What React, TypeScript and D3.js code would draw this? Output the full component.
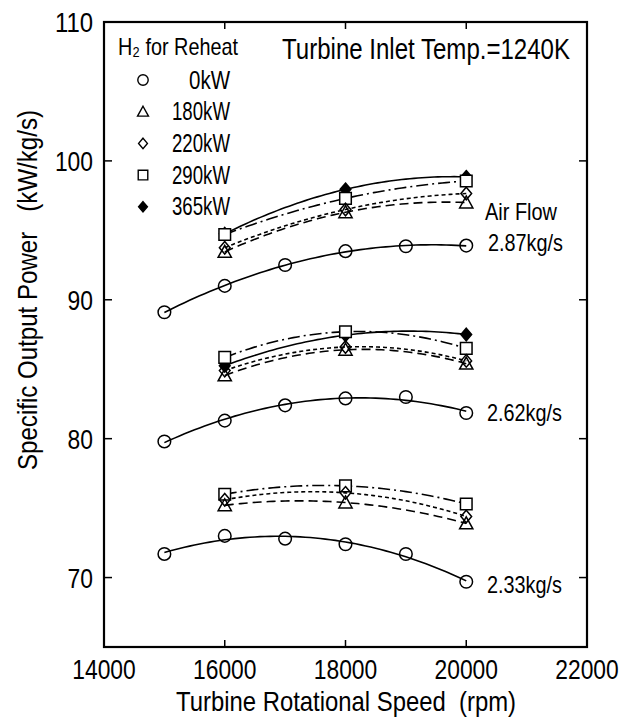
import React from 'react';
import * as d3 from 'd3';

// ---------- data ----------
const rpmBase = [15000, 16000, 17000, 18000, 19000, 20000];
const rpmReheat = [16000, 18000, 20000];
const xTickValues = [14000, 16000, 18000, 20000, 22000];
const yTickValues = [70, 80, 90, 100, 110];
const reheatLabels = ['0kW', '180kW', '220kW', '290kW', '365kW'];
const airFlowLabels = ['2.87kg/s', '2.62kg/s', '2.33kg/s'];

// Air flow 2.87 kg/s
const flow287_0kW = [89.1, 91.0, 92.5, 93.5, 93.85, 93.9];
const flow287_180kW = [93.45, 96.3, 97.0];
const flow287_220kW = [93.75, 96.5, 97.65];
const flow287_290kW = [94.7, 97.3, 98.55];
const flow287_365kW = [94.75, 97.95, 98.85];
// Air flow 2.62 kg/s
const flow262_0kW = [79.8, 81.3, 82.4, 82.9, 83.0, 81.85];
const flow262_180kW = [84.55, 86.4, 85.4];
const flow262_220kW = [84.9, 86.6, 85.6];
const flow262_290kW = [85.85, 87.7, 86.5];
const flow262_365kW = [85.25, 87.45, 87.5];
// Air flow 2.33 kg/s
const flow233_0kW = [71.7, 73.0, 72.8, 72.4, 71.7, 69.7];
const flow233_180kW = [75.2, 75.4, 73.9];
const flow233_220kW = [75.6, 76.1, 74.4];
const flow233_290kW = [76.0, 76.6, 75.3];

const groups = [
  { label: airFlowLabels[0], series: [flow287_0kW, flow287_180kW, flow287_220kW, flow287_290kW, flow287_365kW] },
  { label: airFlowLabels[1], series: [flow262_0kW, flow262_180kW, flow262_220kW, flow262_290kW, flow262_365kW] },
  { label: airFlowLabels[2], series: [flow233_0kW, flow233_180kW, flow233_220kW, flow233_290kW, null] },
];

// ---------- layout ----------
const W = 635, H = 724;
const x = d3.scaleLinear().domain([14000, 22000]).range([104, 587]);
const y = d3.scaleLinear().domain([65, 110]).range([647, 22]);
const FONT = "'Liberation Sans', Arial, Helvetica, sans-serif";
const DIGIT_W = 12.7;

const dashes = [null, '9 5', '4 3', '12 4 2 4', null];
const markerTypes = ['circle', 'triangle', 'diamond', 'square', 'fdiamond'];

function fitQuadratic(xs: number[], ys: number[]) {
  const m = d3.mean(xs) as number;
  const u = xs.map(v => (v - m) / 1000);
  let S0 = 0, S1 = 0, S2 = 0, S3 = 0, S4 = 0, T0 = 0, T1 = 0, T2 = 0;
  u.forEach((ui, i) => {
    S0 += 1; S1 += ui; S2 += ui * ui; S3 += ui ** 3; S4 += ui ** 4;
    T0 += ys[i]; T1 += ui * ys[i]; T2 += ui * ui * ys[i];
  });
  const det3 = (a: number[][]) =>
    a[0][0] * (a[1][1] * a[2][2] - a[1][2] * a[2][1]) -
    a[0][1] * (a[1][0] * a[2][2] - a[1][2] * a[2][0]) +
    a[0][2] * (a[1][0] * a[2][1] - a[1][1] * a[2][0]);
  const A = [[S0, S1, S2], [S1, S2, S3], [S2, S3, S4]];
  const T = [T0, T1, T2];
  const D = det3(A);
  const rep = (col: number) => A.map((row, r) => row.map((v, c) => (c === col ? T[r] : v)));
  const a = det3(rep(0)) / D, b = det3(rep(1)) / D, c = det3(rep(2)) / D;
  return (xv: number) => {
    const uu = (xv - m) / 1000;
    return a + b * uu + c * uu * uu;
  };
}

function markerPath(type: string, cx: number, cy: number, s: number) {
  const p = d3.path();
  if (type === 'circle') {
    p.moveTo(cx + s, cy);
    p.arc(cx, cy, s, 0, Math.PI * 2);
  } else if (type === 'triangle') {
    const h = s * 1.9;
    p.moveTo(cx, cy - h * 0.55);
    p.lineTo(cx + s * 1.05, cy + h * 0.45);
    p.lineTo(cx - s * 1.05, cy + h * 0.45);
    p.closePath();
  } else if (type === 'square') {
    const r = s * 0.92;
    p.rect(cx - r, cy - r, 2 * r, 2 * r);
  } else {
    const r = s * 1.0;
    p.moveTo(cx, cy - r);
    p.lineTo(cx + r * 0.85, cy);
    p.lineTo(cx, cy + r);
    p.lineTo(cx - r * 0.85, cy);
    p.closePath();
  }
  return p.toString();
}

const line = d3.line<[number, number]>().x(d => x(d[0])).y(d => y(d[1]));

function curvePoints(xs: number[], ys: number[]): [number, number][] {
  const f = fitQuadratic(xs, ys);
  const lo = d3.min(xs) as number, hi = d3.max(xs) as number;
  return d3.range(0, 61).map(i => {
    const xv = lo + (hi - lo) * i / 60;
    return [xv, f(xv)] as [number, number];
  });
}

function T(props: { x: number; y: number; len: number; size: number; anchor?: string; transform?: string; children: React.ReactNode }) {
  const { x: tx, y: ty, len, size, anchor, transform, children } = props;
  return (
    <text x={tx} y={ty} fontSize={size} textAnchor={anchor || 'start'} textLength={len}
      lengthAdjust="spacingAndGlyphs" transform={transform}>{children}</text>
  );
}

export default function App() {
  const drawOrder = [4, 3, 2, 1, 0];
  return (
    <svg width={W} height={H} style={{ position: 'absolute', left: 0, top: 0, background: '#fff' }} fontFamily={FONT}>
      <rect x={0} y={0} width={W} height={H} fill="#fff" />
      {/* curves */}
      {groups.map((g, gi) =>
        g.series.map((vals, si) => {
          if (!vals) return null;
          const xs = si === 0 ? rpmBase : rpmReheat;
          return (
            <path key={`c${gi}-${si}`} d={line(curvePoints(xs, vals)) || ''} fill="none" stroke="#000"
              strokeWidth={1.6} strokeDasharray={dashes[si] || undefined} />
          );
        })
      )}
      {/* markers */}
      {groups.map((g, gi) =>
        drawOrder.map(si => {
          const vals = g.series[si];
          if (!vals) return null;
          const xs = si === 0 ? rpmBase : rpmReheat;
          return vals.map((v, i) => (
            <path key={`m${gi}-${si}-${i}`} d={markerPath(markerTypes[si], x(xs[i]), y(v), 6.3)}
              fill={si === 4 ? '#000' : si === 3 ? '#fff' : 'none'} stroke="#000" strokeWidth={1.5} />
          ));
        })
      )}
      {/* frame */}
      <rect x={x(14000)} y={y(110)} width={x(22000) - x(14000)} height={y(65) - y(110)} fill="none" stroke="#000" strokeWidth={2.2} />
      {/* x ticks */}
      {xTickValues.slice(1, -1).map(t => (
        <g key={`xt${t}`}>
          <line x1={x(t)} x2={x(t)} y1={y(65)} y2={y(65) - 7} stroke="#000" strokeWidth={1.5} />
          <line x1={x(t)} x2={x(t)} y1={y(110)} y2={y(110) + 7} stroke="#000" strokeWidth={1.5} />
        </g>
      ))}
      {xTickValues.map(t => (
        <T key={`xl${t}`} x={x(t)} y={679} size={28} anchor="middle" len={String(t).length * DIGIT_W}>{t}</T>
      ))}
      {/* y ticks */}
      {yTickValues.slice(0, -1).map(t => (
        <g key={`yt${t}`}>
          <line x1={x(14000)} x2={x(14000) + 8} y1={y(t)} y2={y(t)} stroke="#000" strokeWidth={1.5} />
          <line x1={x(22000)} x2={x(22000) - 8} y1={y(t)} y2={y(t)} stroke="#000" strokeWidth={1.5} />
        </g>
      ))}
      {yTickValues.map(t => (
        <T key={`yl${t}`} x={93} y={y(t) + 10} size={28} anchor="end" len={String(t).length * DIGIT_W}>{t}</T>
      ))}
      {/* axis titles */}
      <T x={176} y={711} size={28} len={340}>{'Turbine Rotational Speed\u00A0\u00A0(rpm)'}</T>
      <T x={0} y={0} size={28} anchor="middle" len={360} transform="translate(37,290) rotate(-90)">{'Specific Output Power\u00A0\u00A0\u00A0(kW/kg/s)'}</T>
      {/* annotation */}
      <T x={282} y={59} size={29} len={288}>Turbine Inlet Temp.=1240K</T>
      {/* legend */}
      <T x={118} y={55} size={24} len={120}>{'H\u2082 for Reheat'}</T>
      {reheatLabels.map((lab, i) => {
        const ly = 80 + i * 31.7;
        return (
          <g key={`lg${i}`}>
            <path d={markerPath(markerTypes[i], 143, ly, 5.2)} fill={i === 4 ? '#000' : 'none'} stroke="#000" strokeWidth={1.4} />
            <T x={230} y={ly + 8.5} size={25} anchor="end" len={lab.length === 3 ? 41 : 58}>{lab}</T>
          </g>
        );
      })}
      {/* air flow labels */}
      <T x={485} y={220} size={24} len={72}>Air Flow</T>
      <T x={488} y={251} size={24} len={75}>{groups[0].label}</T>
      <T x={487} y={421} size={24} len={75}>{groups[1].label}</T>
      <T x={487} y={593} size={24} len={75}>{groups[2].label}</T>
    </svg>
  );
}
